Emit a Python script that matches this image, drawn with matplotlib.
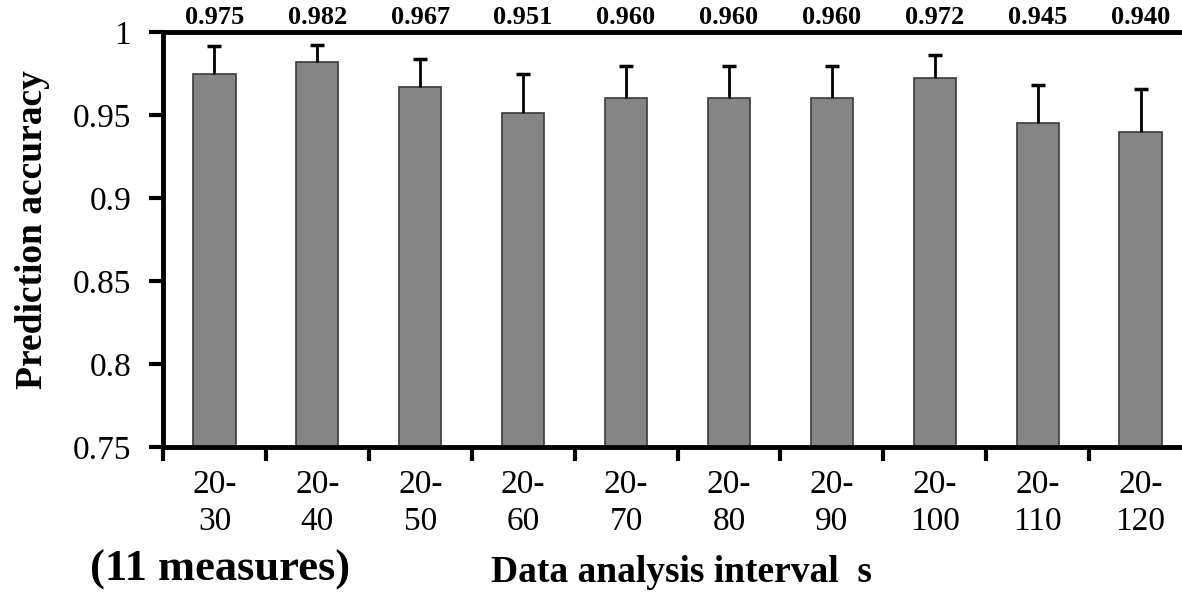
import matplotlib
matplotlib.use("Agg")
import matplotlib.pyplot as plt
import matplotlib.transforms as mtransforms
import numpy as np

categories = ["20-\n30", "20-\n40", "20-\n50", "20-\n60", "20-\n70",
              "20-\n80", "20-\n90", "20-\n100", "20-\n110", "20-\n120"]
accuracy = [0.975, 0.982, 0.967, 0.951, 0.960, 0.960, 0.960, 0.972, 0.945, 0.940]
err_upper = [0.0166, 0.010, 0.0167, 0.0237, 0.0195, 0.0195, 0.0195, 0.014, 0.023, 0.0255]
value_labels = ["0.975", "0.982", "0.967", "0.951", "0.960", "0.960", "0.960", "0.972", "0.945", "0.940"]
yticks = [0.75, 0.80, 0.85, 0.90, 0.95, 1.00]
ytick_labels = ["0.75", "0.8", "0.85", "0.9", "0.95", "1"]

plt.rcParams['font.family'] = ['Liberation Serif', 'DejaVu Serif']

W, H = 1182, 600
fig = plt.figure(figsize=(W / 100, H / 100), dpi=100)
ax = fig.add_axes([163 / W, (H - 447) / H, (1192 - 163) / W, (447 - 32) / H])

x = np.arange(len(categories)) + 0.5
ax.bar(x, accuracy, width=0.41, color="#858585", edgecolor="#3a3a3a", linewidth=1.2, zorder=2)
eb = ax.errorbar(x, accuracy, yerr=[np.zeros(len(err_upper)), err_upper], fmt="none",
                 ecolor="black", elinewidth=2, capsize=5, capthick=2.5, zorder=3)
# hide the lower caps (only upper error shown)
eb[1][0].set_visible(False)

ax.set_xlim(0, len(categories))
ax.set_ylim(0.75, 1.0)

ax.set_yticks(yticks)
ax.set_yticklabels(ytick_labels, fontsize=24)
ax.tick_params(axis="y", direction="out", length=10, width=3, pad=13)

ax.set_xticks(np.arange(len(categories) + 1))
ax.set_xticklabels([])
ax.set_xticks(x, minor=True)
ax.set_xticklabels(categories, minor=True, fontsize=24, linespacing=1.3)
ax.tick_params(axis="x", which="major", direction="out", length=10, width=3)
ax.tick_params(axis="x", which="minor", length=0, pad=16)

for s in ["left", "bottom", "top"]:
    ax.spines[s].set_linewidth(3.5)
    ax.spines[s].set_color("black")
ax.spines["right"].set_visible(False)

trans = mtransforms.blended_transform_factory(ax.transData, fig.transFigure)
for xi, lab in zip(x, value_labels):
    ax.text(xi, 1 - 18 / H, lab, transform=trans, ha="center", va="center",
            fontsize=19, fontweight="bold", clip_on=False)

fig.text(33 / W, 1 - 230 / H, "Prediction accuracy", rotation=90, ha="center", va="center",
         fontsize=27, fontweight="bold")
fig.text(681 / W, 1 - 572 / H, "Data analysis interval  s", ha="center", va="center",
         fontsize=27, fontweight="bold")
fig.text(220 / W, 1 - 570 / H, "(11 measures)", ha="center", va="center",
         fontsize=32, fontweight="bold")

fig.savefig("out.png", dpi=100)
